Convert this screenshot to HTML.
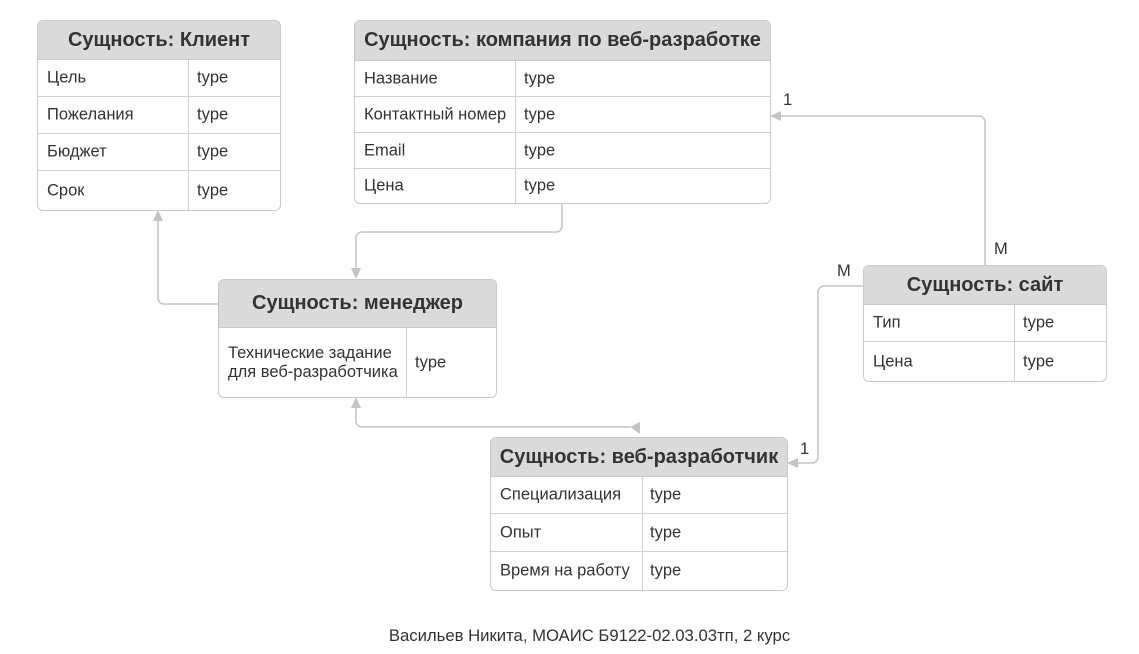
<!DOCTYPE html>
<html><head><meta charset="utf-8"><style>
body{margin:0;width:1139px;height:654px;background:#fff;font-family:"Liberation Sans",Arial,sans-serif;position:relative;overflow:hidden}
.t{position:absolute;border:1px solid #c8c8c8;border-radius:6px;background:#fff;box-sizing:border-box;overflow:hidden}
.h{background:#dadada;font-weight:bold;font-size:20px;color:#333;text-align:center;border-bottom:1px solid #c8c8c8;box-sizing:border-box;display:flex;align-items:center;justify-content:center;white-space:nowrap}
.r{position:relative;border-bottom:1px solid #d0d0d0;box-sizing:border-box;font-size:16.5px;color:#333}
.r:last-child{border-bottom:none}
.r span{position:absolute;top:50%;transform:translateY(-50%);line-height:19px;white-space:nowrap}
.v{position:absolute;top:0;bottom:0;border-left:1px solid #d0d0d0}
.lab{position:absolute;font-size:16.5px;color:#333}
</style></head><body>
<svg width="1139" height="654" style="position:absolute;left:0;top:0" fill="none" stroke="#c4c4c4" stroke-width="1.5">
<path d="M218 304 H164 a6 6 0 0 1 -6 -6 V220"/>
<polygon points="158,210 153,221 163,221" fill="#c4c4c4" stroke="none"/>
<path d="M562 203 V226 a6 6 0 0 1 -6 6 H362 a6 6 0 0 0 -6 6 V268"/>
<polygon points="356,279 351,268 361,268" fill="#c4c4c4" stroke="none"/>
<path d="M356 408 V421 a6 6 0 0 0 6 6 H630"/>
<polygon points="356,397 351,408 361,408" fill="#c4c4c4" stroke="none"/>
<polygon points="630,427 640,422 640,434" fill="#c4c4c4" stroke="none"/>
<path d="M985 265 V122 a6 6 0 0 0 -6 -6 H781"/>
<polygon points="770,116 781,111 781,121" fill="#c4c4c4" stroke="none"/>
<path d="M863 286 H824 a6 6 0 0 0 -6 6 V457 a6 6 0 0 1 -6 6 H798"/>
<polygon points="787,463 798,458 798,468" fill="#c4c4c4" stroke="none"/>
</svg>

<div class="t" style="left:37px;top:20px;width:244px;height:191px">
<div class="h" style="height:39px">Сущность: Клиент</div>
<div class="r" style="height:37px"><span style="left:9px">Цель</span><div class="v" style="left:150px"></div><span style="left:159px">type</span></div>
<div class="r" style="height:37px"><span style="left:9px">Пожелания</span><div class="v" style="left:150px"></div><span style="left:159px">type</span></div>
<div class="r" style="height:37px"><span style="left:9px">Бюджет</span><div class="v" style="left:150px"></div><span style="left:159px">type</span></div>
<div class="r" style="height:39px"><span style="left:9px">Срок</span><div class="v" style="left:150px"></div><span style="left:159px">type</span></div>
</div>

<div class="t" style="left:354px;top:20px;width:417px;height:184px">
<div class="h" style="height:40px">Сущность: компания по веб-разработке</div>
<div class="r" style="height:36px"><span style="left:9px">Название</span><div class="v" style="left:160px"></div><span style="left:169px">type</span></div>
<div class="r" style="height:36px"><span style="left:9px">Контактный номер</span><div class="v" style="left:160px"></div><span style="left:169px">type</span></div>
<div class="r" style="height:36px"><span style="left:9px">Email</span><div class="v" style="left:160px"></div><span style="left:169px">type</span></div>
<div class="r" style="height:34px"><span style="left:9px">Цена</span><div class="v" style="left:160px"></div><span style="left:169px">type</span></div>
</div>

<div class="t" style="left:218px;top:279px;width:279px;height:119px">
<div class="h" style="height:48px">Сущность: менеджер</div>
<div class="r" style="height:70px"><span style="left:9px">Технические задание<br>для веб-разработчика</span><div class="v" style="left:187px"></div><span style="left:196px">type</span></div>
</div>

<div class="t" style="left:863px;top:265px;width:244px;height:117px">
<div class="h" style="height:39px">Сущность: сайт</div>
<div class="r" style="height:37px"><span style="left:9px">Тип</span><div class="v" style="left:150px"></div><span style="left:159px">type</span></div>
<div class="r" style="height:39px"><span style="left:9px">Цена</span><div class="v" style="left:150px"></div><span style="left:159px">type</span></div>
</div>

<div class="t" style="left:490px;top:437px;width:298px;height:154px">
<div class="h" style="height:39px">Сущность: веб-разработчик</div>
<div class="r" style="height:37px"><span style="left:9px">Специализация</span><div class="v" style="left:151px"></div><span style="left:159px">type</span></div>
<div class="r" style="height:38px"><span style="left:9px">Опыт</span><div class="v" style="left:151px"></div><span style="left:159px">type</span></div>
<div class="r" style="height:38px"><span style="left:9px">Время на работу</span><div class="v" style="left:151px"></div><span style="left:159px">type</span></div>
</div>

<div class="lab" style="left:783px;top:91px">1</div>
<div class="lab" style="left:994px;top:240px">M</div>
<div class="lab" style="left:837px;top:262px">M</div>
<div class="lab" style="left:800px;top:440px">1</div>
<div class="lab" style="left:0;width:1179px;text-align:center;top:626px;font-size:16.7px">Васильев Никита, МОАИС Б9122-02.03.03тп, 2 курс</div>
</body></html>
